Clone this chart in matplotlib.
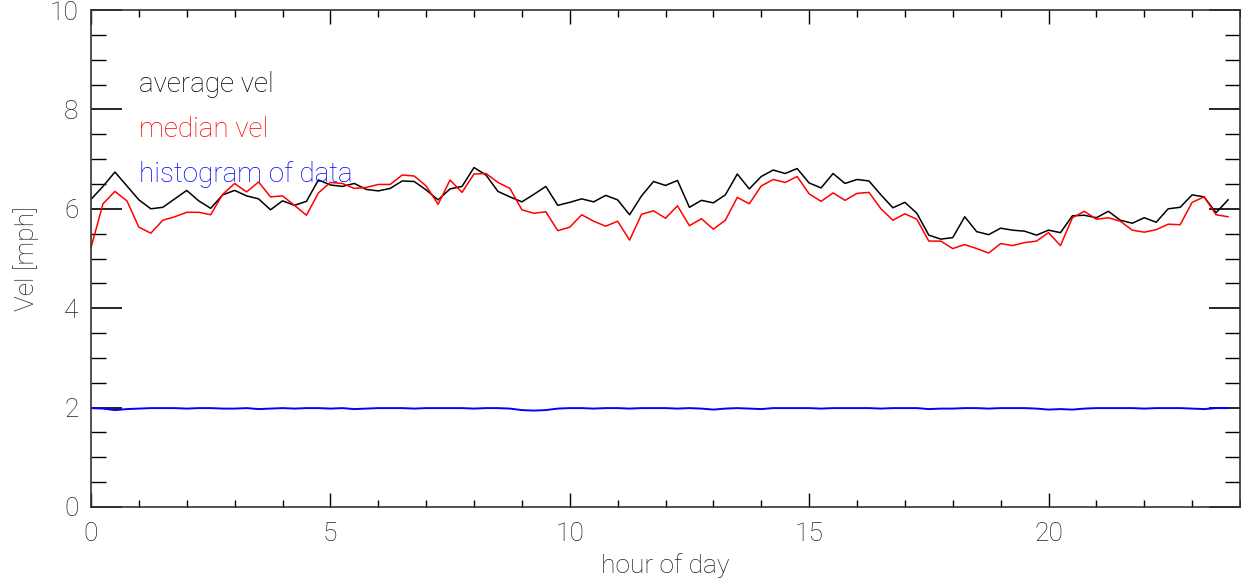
import numpy as np
import matplotlib
matplotlib.use('Agg')
import matplotlib.pyplot as plt
from matplotlib.ticker import MultipleLocator

# 15 minute bins over the day
hours = np.arange(96) * 0.25

avg_vel = [6.19, 6.45, 6.74, 6.46, 6.18, 6.00, 6.03, 6.20, 6.37, 6.16,
           6.01, 6.28, 6.37, 6.26, 6.20, 5.98, 6.16, 6.07, 6.15, 6.58,
           6.48, 6.45, 6.51, 6.39, 6.36, 6.41, 6.56, 6.55, 6.38, 6.18,
           6.40, 6.45, 6.83, 6.68, 6.35, 6.24, 6.14, 6.29, 6.45, 6.07,
           6.13, 6.20, 6.14, 6.27, 6.18, 5.88, 6.26, 6.55, 6.47, 6.57,
           6.03, 6.17, 6.12, 6.28, 6.70, 6.40, 6.65, 6.78, 6.71, 6.81,
           6.52, 6.42, 6.71, 6.51, 6.59, 6.56, 6.28, 6.02, 6.13, 5.91,
           5.47, 5.39, 5.42, 5.84, 5.54, 5.48, 5.61, 5.57, 5.55, 5.47,
           5.57, 5.52, 5.86, 5.87, 5.82, 5.95, 5.77, 5.71, 5.82, 5.73,
           6.00, 6.03, 6.28, 6.24, 5.92, 6.18]

med_vel = [5.22, 6.10, 6.35, 6.16, 5.63, 5.51, 5.77, 5.84, 5.93, 5.93,
           5.88, 6.29, 6.51, 6.34, 6.54, 6.24, 6.26, 6.07, 5.87, 6.32,
           6.53, 6.51, 6.41, 6.43, 6.49, 6.49, 6.68, 6.66, 6.46, 6.09,
           6.58, 6.33, 6.70, 6.71, 6.53, 6.41, 5.98, 5.91, 5.94, 5.56,
           5.63, 5.88, 5.75, 5.65, 5.75, 5.37, 5.89, 5.96, 5.81, 6.06,
           5.66, 5.80, 5.59, 5.77, 6.23, 6.10, 6.46, 6.59, 6.53, 6.65,
           6.30, 6.15, 6.32, 6.17, 6.31, 6.33, 6.00, 5.77, 5.90, 5.79,
           5.35, 5.35, 5.20, 5.28, 5.20, 5.11, 5.30, 5.26, 5.32, 5.35,
           5.52, 5.26, 5.82, 5.95, 5.79, 5.82, 5.75, 5.57, 5.53, 5.58,
           5.69, 5.68, 6.13, 6.24, 5.88, 5.84]

hist_data = [1.99, 1.98, 1.95, 1.97, 1.98, 1.99, 1.99, 1.99, 1.98, 1.99,
             1.99, 1.98, 1.98, 1.99, 1.97, 1.98, 1.99, 1.98, 1.99, 1.99,
             1.98, 1.99, 1.97, 1.98, 1.99, 1.99, 1.99, 1.98, 1.99, 1.99,
             1.99, 1.99, 1.98, 1.99, 1.99, 1.98, 1.95, 1.94, 1.95, 1.98,
             1.99, 1.99, 1.98, 1.99, 1.99, 1.98, 1.99, 1.99, 1.99, 1.98,
             1.99, 1.98, 1.96, 1.98, 1.99, 1.98, 1.97, 1.99, 1.99, 1.99,
             1.99, 1.98, 1.99, 1.99, 1.99, 1.99, 1.98, 1.99, 1.99, 1.99,
             1.97, 1.98, 1.98, 1.99, 1.99, 1.98, 1.99, 1.99, 1.99, 1.98,
             1.96, 1.97, 1.96, 1.98, 1.99, 1.99, 1.99, 1.99, 1.98, 1.99,
             1.99, 1.99, 1.98, 1.97, 1.99, 1.99]

labels = ['average vel', 'median vel', 'histogram of data']
colors = ['black', '#ff0000', '#0000ff']

plt.rcParams['font.family'] = ['Roboto', 'DejaVu Sans']
plt.rcParams['font.weight'] = 'light'
plt.rcParams['axes.labelweight'] = 'light'

fig = plt.figure(figsize=(12.41, 5.87), dpi=100)
ax = fig.add_axes([91/1241, 80/587, 1149/1241, 497/587])

ax.plot(hours, avg_vel, color=colors[0], lw=1.1)
ax.plot(hours, med_vel, color=colors[1], lw=1.1)
ax.plot(hours, hist_data, color=colors[2], lw=1.4)

ax.set_xlim(0, 24)
ax.set_ylim(0, 10)
ax.xaxis.set_major_locator(MultipleLocator(5))
ax.xaxis.set_minor_locator(MultipleLocator(1))
ax.yaxis.set_major_locator(MultipleLocator(2))
ax.yaxis.set_minor_locator(MultipleLocator(0.5))
ax.tick_params(axis='x', which='major', direction='in', length=10, top=True,
               labelsize=19, pad=11, width=1, labelcolor='#222222')
ax.tick_params(axis='x', which='minor', direction='in', length=5, top=True, width=1)
ax.tick_params(axis='y', which='major', direction='in', length=22, right=True,
               labelsize=19, pad=9, width=1.2, labelcolor='#222222')
ax.tick_params(axis='y', which='minor', direction='in', length=11, right=True, width=1)
for sp in ax.spines.values():
    sp.set_linewidth(1.2)
    sp.set_color('#333333')

ax.set_xlabel('hour of day', fontsize=19, labelpad=5, color='#222222')
ax.set_ylabel('Vel [mph]', fontsize=19, labelpad=8, color='#222222')

# legend written as coloured text like the original
for k, (lab, c) in enumerate(zip(labels, colors)):
    ax.text(1.0, 8.5 - k * 0.9, lab, color=c, fontsize=20, va='center', ha='left')

fig.savefig('out.png', dpi=100)
